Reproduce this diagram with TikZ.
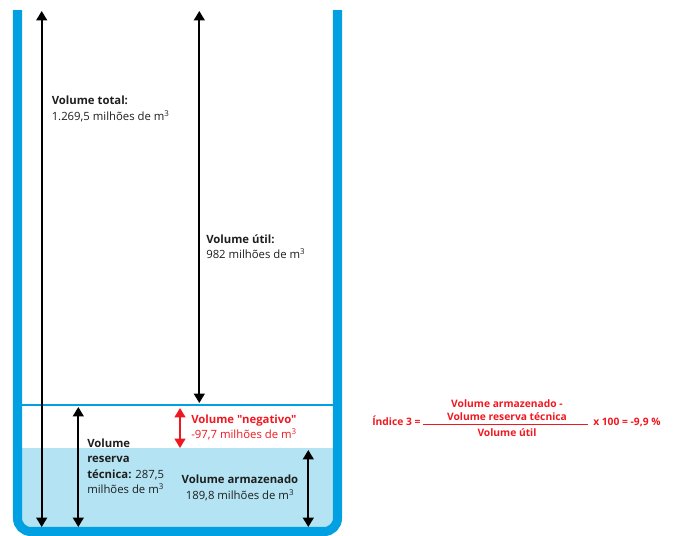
\documentclass[tikz,border=0pt]{standalone}
\usepackage{fontspec}
\setmainfont{Open Sans}[Ligatures=TeXOff]
\usetikzlibrary{arrows.meta}
\definecolor{tankblue}{RGB}{0,160,226}
\definecolor{waterblue}{RGB}{180,228,243}
\definecolor{redc}{RGB}{240,24,32}
\definecolor{txtc}{RGB}{30,30,30}
\begin{document}
\begin{tikzpicture}[x=0.75pt,y=-0.75pt,
  dim/.style={line width=1.5pt,{Triangle[length=7pt,width=8pt]}-{Triangle[length=7pt,width=8pt]}},
  lab/.style={anchor=base west,inner sep=0pt,text=txtc,font=\fontsize{8.5}{10}\selectfont},
  labb/.style={lab,font=\fontsize{8.5}{10}\selectfont\bfseries},
  redlab/.style={lab,text=redc},
  redlabb/.style={labb,text=redc},
  fml/.style={anchor=base,inner sep=0pt,text=redc,font=\fontsize{7.7}{9}\selectfont\bfseries}]
\useasboundingbox (0,0) rectangle (676,536);
% water
\fill[waterblue] (17.5,448) [rounded corners=10pt] -- (17.5,531.5) -- (337.5,531.5) [sharp corners] -- (337.5,448) -- cycle;
% level line
\draw[tankblue,line width=2.2pt] (20,405) -- (335,405);
% tank walls
\draw[tankblue,line width=6.8pt] (17.5,10) [rounded corners=10pt] -- (17.5,531.5) -- (337.5,531.5) [sharp corners] -- (337.5,10);
% arrow end points
\coordinate (totT) at (41.7,11);
\coordinate (totB) at (41.7,527);
\coordinate (utT) at (199.3,11);
\coordinate (utB) at (199.3,403);
\coordinate (resT) at (78.3,407);
\coordinate (resB) at (78.3,527);
\coordinate (negT) at (180,408);
\coordinate (negB) at (180,448);
\coordinate (armT) at (308.3,450);
\coordinate (armB) at (308.3,527);
\draw[dim] (totT) -- (totB);
\draw[dim] (utT) -- (utB);
\draw[dim] (resT) -- (resB);
\draw[dim,redc] (negT) -- (negB);
\draw[dim] (armT) -- (armB);
% labels
\node[labb] (t1) at (51.5,104) {Volume total:};
\node[lab] (t2) at (51.5,120) {1.269,5 milhões de m\textsuperscript{3}};
\node[labb] (u1) at (206,243) {Volume útil:};
\node[lab] (u2) at (206,258) {982 milhões de m\textsuperscript{3}};
\node[redlabb] (n1) at (191,423) {Volume "negativo"};
\node[redlab] (n2) at (191,438) {-97,7 milhões de m\textsuperscript{3}};
\node[labb] (r1) at (87,447) {Volume};
\node[labb] (r2) at (87,462.5) {reserva};
\node[lab] (r3) at (87,478) {\textbf{técnica:} 287,5};
\node[lab] (r4) at (87,493.5) {milhões de m\textsuperscript{3}};
\node[labb,anchor=base] (a1) at (240,483) {Volume armazenado};
\node[lab,anchor=base] (a2) at (240,499) {189,8 milhões de m\textsuperscript{3}};
% formula
\node[fml,anchor=base west] (f0) at (372,425) {Índice 3 =};
\coordinate (fl) at (423,424.5);
\coordinate (fr) at (588,424.5);
\draw[redc,line width=1.1pt] (fl) -- (fr);
\node[fml] (f1) at (507,407) {Volume armazenado -};
\node[fml] (f2) at (507,420) {Volume reserva técnica};
\node[fml] (f3) at (507,436) {Volume útil};
\node[fml,anchor=base west] (f4) at (593,425) {x 100 = -9,9 \%};
\end{tikzpicture}
\end{document}
